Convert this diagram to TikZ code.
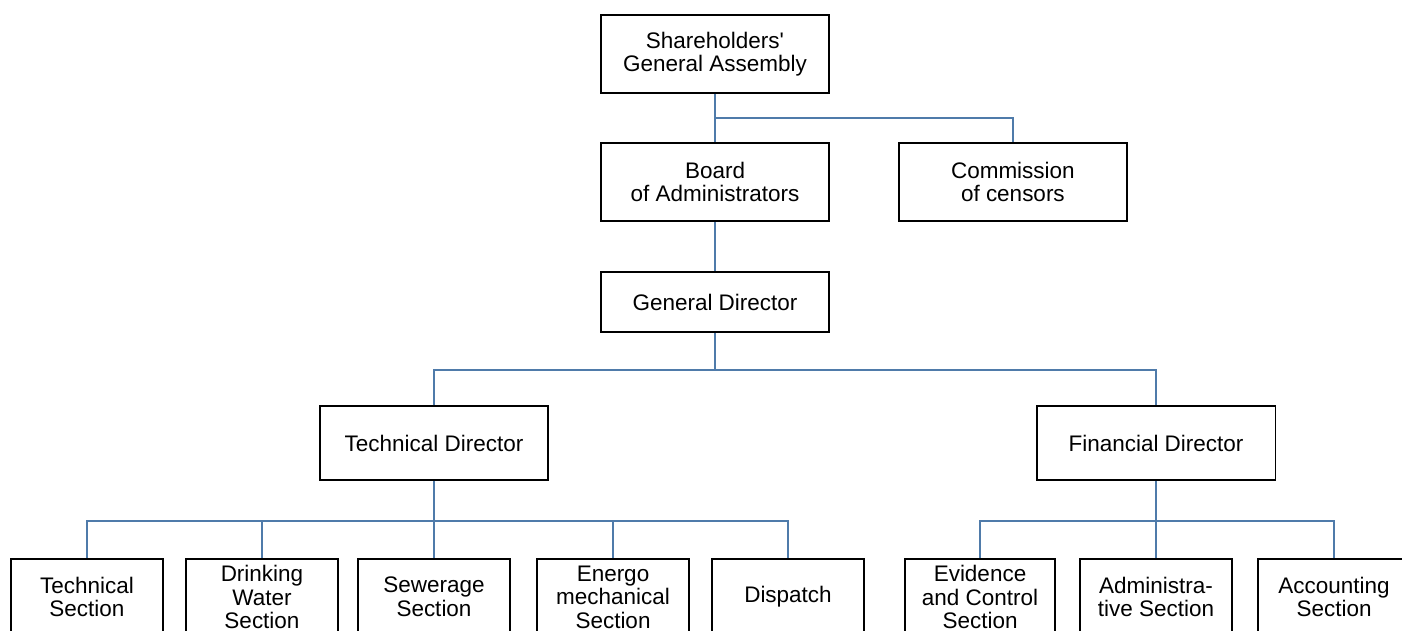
\documentclass[tikz,border=0pt]{standalone}
\usepackage{fontspec}
\setmainfont{Liberation Sans}
\usetikzlibrary{positioning}
\definecolor{linkblue}{HTML}{4F7BAA}

\begin{document}
\begin{tikzpicture}[x=0.02cm,y=-0.02cm,every node/.style={font=\fontsize{12.8}{13.4}\selectfont,align=center},unit/.style={draw=black,line width=1.1pt,fill=white,minimum width=#1,inner sep=2pt},big/.style={unit=4.56cm,minimum height=1.56cm},sect/.style={unit=3.04cm,minimum height=1.52cm},link/.style={draw=linkblue,line width=1.1pt}]
\useasboundingbox (0,0) rectangle (1402,631);
\node[big] (sga) at (715,54) {Shareholders\textquotesingle\\General Assembly};
\node[big,below=0.96cm of sga] (board) {Board\\of Administrators};
\node[big,right=1.36cm of board] (cens) {Commission\\of censors};
\node[big,minimum height=1.2cm] (gd) at (715,302) {General Director};
\node[big,minimum height=1.48cm] (td) at (434,443) {Technical Director};
\node[big,minimum height=1.48cm,minimum width=4.78cm] (fd) at (1156,443) {Financial Director};
\node[sect] (tsec) at (87,597) {Technical\\Section};
\node[sect] (drink) at (262,597) {Drinking\\Water\\Section};
\node[sect] (sew) at (434,597) {Sewerage\\Section};
\node[sect] (energo) at (613,597) {Energo\\mechanical\\Section};
\node[sect] (disp) at (788,597) {Dispatch};
\node[sect,minimum width=3cm] (evid) at (980,597) {Evidence\\and Control\\Section};
\node[sect] (admin) at (1156,597) {Administra-\\tive Section};
\node[sect] (acct) at (1334,597) {Accounting\\Section};
% junctions
\coordinate (splitA) at (715,118);
\coordinate (splitB) at (715,370);
\coordinate (splitT) at (434,521);
\coordinate (splitF) at (1156,521);
\draw[link] (sga) -- (board);
\draw[link] (splitA) -| (cens);
\draw[link] (board) -- (gd);
\draw[link] (gd) -- (splitB);
\draw[link] (td) |- (splitB) -| (fd);
\draw[link] (td) -- (sew);
\draw[link] (tsec) |- (splitT);
\draw[link] (drink) |- (splitT);
\draw[link] (energo) |- (splitT);
\draw[link] (disp) |- (splitT);
\draw[link] (fd) -- (admin);
\draw[link] (evid) |- (splitF) -| (acct);
\end{tikzpicture}
\end{document}
